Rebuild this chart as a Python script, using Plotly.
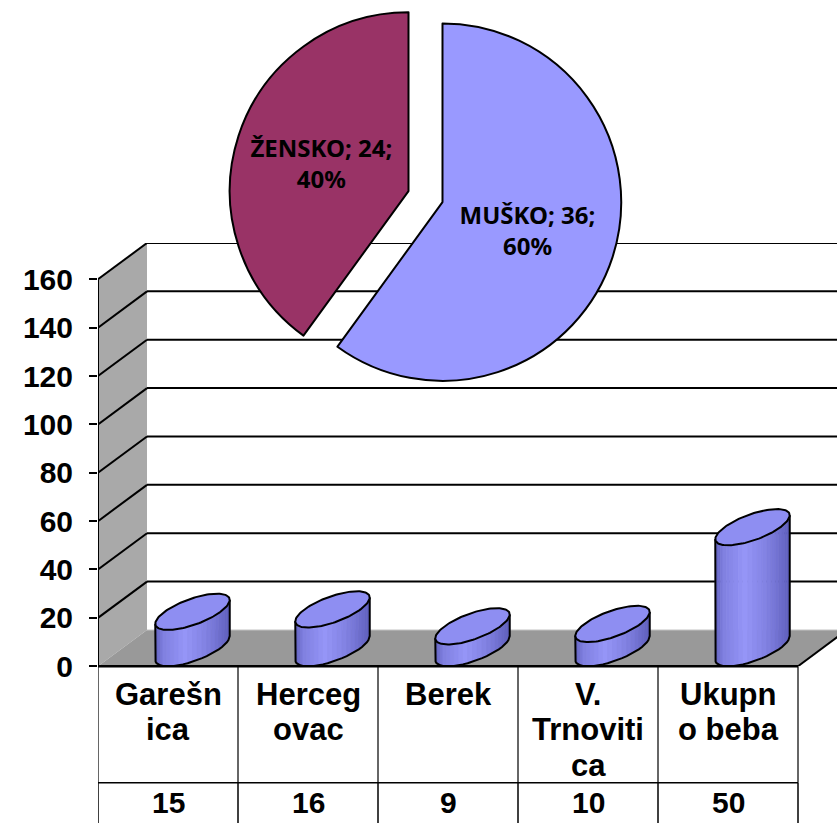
import numpy as np
import plotly.graph_objects as go

# ---------------- data ----------------
categories = ["Garešnica", "Hercegovac", "Berek", "V. Trnovitica", "Ukupno beba"]
category_lines = [["Garešn", "ica"], ["Herceg", "ovac"], ["Berek"],
                  ["V.", "Trnoviti", "ca"], ["Ukupn", "o beba"]]
values = [15, 16, 9, 10, 50]
y_ticks = [0, 20, 40, 60, 80, 100, 120, 140, 160]

pie_labels = ["MUŠKO", "ŽENSKO"]
pie_values = [36, 24]
pie_colors = ["#9999FF", "#993366"]

# ---------------- geometry / style ----------------
W, H = 837, 840
X0_PX, COL_PX = 98, 140          # left edge of axis/table and column width (px)
Y0_PX, YTOP_PX = 680, 248        # value 0 (front) and top of the back wall (px)
DEPTH_X, DEPTH_Y = 0.35, 15      # oblique depth offset in axis units
Y_MAX = y_ticks[-1] + DEPTH_Y
CYL_A = 0.2                      # cylinder half width (x units)
FONT = "Liberation Sans, Arial, sans-serif"


def py(p):
    return 1 - p / H


def ux(p):
    return -0.5 + (p - X0_PX) / COL_PX


X_MAX = ux(W)

fig = go.Figure()
shapes = []

# left side wall
shapes.append(dict(type="path", xref="x", yref="y", layer="below",
                   path=f"M -0.5 0 L -0.5 {y_ticks[-1]} L {-0.5 + DEPTH_X} {Y_MAX} L {-0.5 + DEPTH_X} {DEPTH_Y} Z",
                   fillcolor="#a9a9a9", line=dict(width=0)))
# floor
shapes.append(dict(type="path", xref="x", yref="y", layer="below",
                   path=f"M -0.5 0 L {-0.5 + DEPTH_X} {DEPTH_Y} L {4.5 + DEPTH_X} {DEPTH_Y} L 4.5 0 Z",
                   fillcolor="#999999", line=dict(width=0)))
shapes.append(dict(type="line", xref="x", yref="y", layer="below",
                   x0=-0.5 + DEPTH_X, y0=DEPTH_Y, x1=X_MAX + 1, y1=DEPTH_Y,
                   line=dict(color="#c8c8c8", width=1)))
shapes.append(dict(type="line", xref="x", yref="y", layer="below",
                   x0=4.5, y0=0, x1=4.5 + DEPTH_X, y1=DEPTH_Y,
                   line=dict(color="black", width=2)))
# gridlines on back wall and side wall
for v in y_ticks[1:]:
    shapes.append(dict(type="line", xref="x", yref="y", layer="below",
                       x0=-0.5 + DEPTH_X, y0=v + DEPTH_Y, x1=X_MAX + 1, y1=v + DEPTH_Y,
                       line=dict(color="black", width=2)))
    shapes.append(dict(type="line", xref="x", yref="y", layer="below",
                       x0=-0.5, y0=v, x1=-0.5 + DEPTH_X, y1=v + DEPTH_Y,
                       line=dict(color="black", width=2)))
# vertical axis line
shapes.append(dict(type="line", xref="x", yref="y", layer="below",
                   x0=-0.5, y0=0, x1=-0.5, y1=y_ticks[-1],
                   line=dict(color="black", width=2)))

# ---------------- cylinders ----------------
theta0 = np.arctan2(DEPTH_X / 2, CYL_A)
th_front = np.linspace(theta0 + np.pi, theta0 + 2 * np.pi, 25)
th_full = np.linspace(0, 2 * np.pi, 121)


def ell(cx, cy, th):
    return (cx + CYL_A * np.cos(th) + DEPTH_X / 2 * np.sin(th),
            cy + DEPTH_Y / 2 * np.sin(th))


def shade(t):
    pts = [(0.0, 0.66), (0.12, 0.86), (0.4, 1.0), (0.7, 0.86), (1.0, 0.64)]
    f = np.interp(t, [p[0] for p in pts], [p[1] for p in pts])
    return f"rgb({int(150 * f)},{int(150 * f)},{int(248 * (0.35 + 0.65 * f))})"


for i, v in enumerate(values):
    cx = i + DEPTH_X / 2
    bx, by = ell(cx, DEPTH_Y / 2, th_front)
    tx, ty = ell(cx, v + DEPTH_Y / 2, th_front)
    xl, xr = bx.min(), bx.max()
    for k in range(len(th_front) - 1):
        xs = [bx[k], bx[k + 1], tx[k + 1], tx[k], bx[k]]
        ys = [by[k], by[k + 1], ty[k + 1], ty[k], by[k]]
        t = ((bx[k] + bx[k + 1]) / 2 - xl) / (xr - xl)
        c = shade(t)
        fig.add_trace(go.Scatter(x=xs, y=ys, mode="lines", fill="toself",
                                 fillcolor=c, line=dict(color=c, width=0.8),
                                 hoverinfo="skip", showlegend=False))
    ox = [tx[0]] + list(bx) + [tx[-1]]
    oy = [ty[0]] + list(by) + [ty[-1]]
    fig.add_trace(go.Scatter(x=ox, y=oy, mode="lines",
                             line=dict(color="black", width=2),
                             hoverinfo="skip", showlegend=False))
    ex, ey = ell(cx, v + DEPTH_Y / 2, th_full)
    fig.add_trace(go.Scatter(x=ex, y=ey, mode="lines", fill="toself",
                             fillcolor="#8e8ef2", line=dict(color="black", width=2),
                             hoverinfo="skip", showlegend=False))

# ---------------- data table ----------------
row1_top, row2_top = 680, 799
for b in [-0.5, 0.5, 1.5, 2.5, 3.5, 4.5]:
    shapes.append(dict(type="line", xref="x", yref="paper", layer="below",
                       x0=b, x1=b, y0=py(row1_top), y1=py(row2_top),
                       line=dict(color="#333333", width=1.5)))
    shapes.append(dict(type="line", xref="x", yref="paper", layer="below",
                       x0=b, x1=b, y0=py(row2_top), y1=0,
                       line=dict(color="black", width=1.5)))
shapes.append(dict(type="line", xref="x", yref="paper", layer="below",
                   x0=ux(88), x1=ux(88), y0=py(row2_top), y1=0,
                   line=dict(color="black", width=1.5)))
shapes.append(dict(type="line", xref="x", yref="paper", layer="below",
                   x0=ux(88), x1=4.5, y0=py(row2_top), y1=py(row2_top),
                   line=dict(color="black", width=1.5)))
shapes.append(dict(type="line", xref="x", yref="paper", layer="above",
                   x0=-0.5, x1=4.5, y0=py(row1_top), y1=py(row1_top),
                   line=dict(color="black", width=2.5)))

annotations = []
for i, lines in enumerate(category_lines):
    for k, line in enumerate(lines):
        annotations.append(dict(x=i, xref="x", y=py(709 + 36 * k), yref="paper",
                                text=f"<b>{line}</b>", showarrow=False,
                                xanchor="center", yanchor="middle",
                                font=dict(family=FONT, size=31, color="black")))
for i, v in enumerate(values):
    annotations.append(dict(x=i, xref="x", y=py(819), yref="paper",
                            text=f"<b>{v}</b>", showarrow=False,
                            xanchor="center", yanchor="middle",
                            font=dict(family=FONT, size=30, color="black")))

# ---------------- pie ----------------
fig.add_trace(go.Pie(
    labels=pie_labels, values=pie_values, sort=False, direction="clockwise",
    rotation=0, pull=[0.1, 0.1],
    marker=dict(colors=pie_colors, line=dict(color="black", width=2)),
    texttemplate="<b>%{label}; %{value};<br>%{percent:.0%}</b>",
    textposition="inside", insidetextorientation="horizontal",
    textfont=dict(family="Noto Sans, Open Sans, sans-serif", size=24, color="black"),
    domain=dict(x=[224.2 / W, 626.8 / W], y=[py(401.3), 1]),
    hoverinfo="label+value+percent", showlegend=False,
))

fig.update_layout(
    width=W, height=H, margin=dict(l=0, r=0, t=0, b=0),
    paper_bgcolor="white", plot_bgcolor="white", showlegend=False,
    shapes=shapes, annotations=annotations,
    xaxis=dict(domain=[X0_PX / W, 1], range=[-0.5, X_MAX], showgrid=False,
               zeroline=False, showticklabels=False, showline=False, ticks=""),
    yaxis=dict(domain=[py(Y0_PX), py(YTOP_PX)], range=[0, Y_MAX],
               tickvals=y_ticks, ticktext=[str(t) for t in y_ticks],
               ticks="outside", ticklen=8, tickwidth=1.5, tickcolor="black",
               showgrid=False, zeroline=False, showline=False,
               tickfont=dict(family=FONT, size=30, color="black", weight="bold"),
               ticklabelstandoff=10),
)

fig.write_html("out.html", config={"displayModeBar": False},
               post_script="document.body.style.margin='0';document.body.style.overflow='hidden';")
